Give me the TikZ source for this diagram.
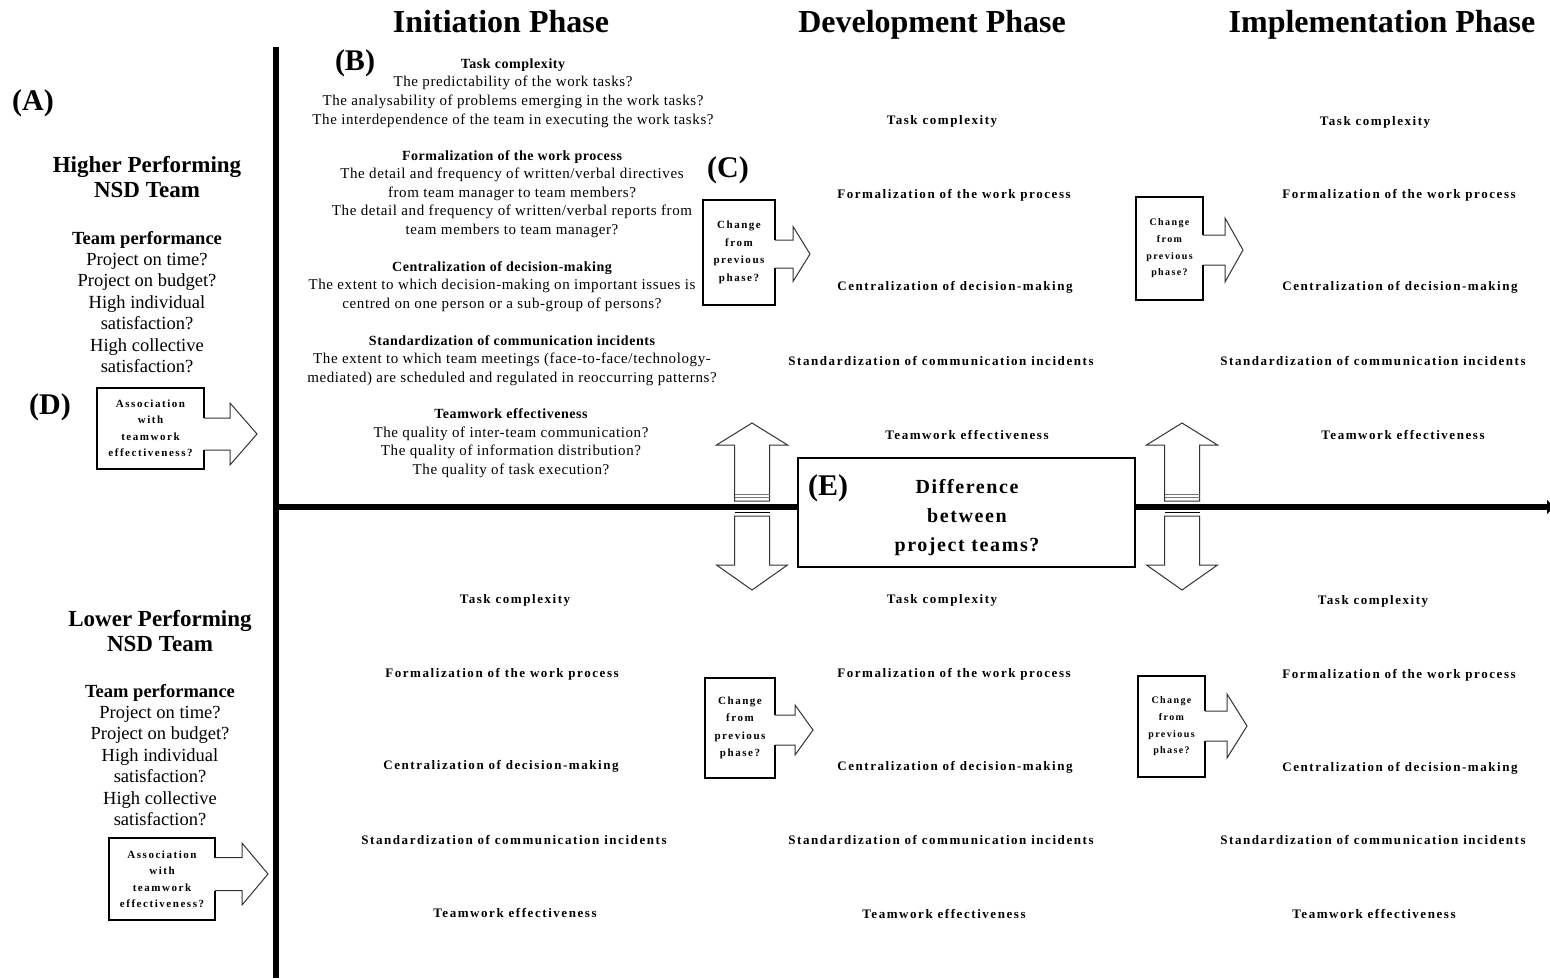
\documentclass[tikz,border=0pt]{standalone}
\usepackage{fontspec}
\setmainfont{Liberation Serif}
\newfontfamily\wideA[LetterSpace=12]{Liberation Serif}
\newfontfamily\wideB[LetterSpace=4]{Liberation Serif}
\newfontfamily\wideC[LetterSpace=14]{Liberation Serif}
\newfontfamily\wideD[LetterSpace=8]{Liberation Serif}
\usetikzlibrary{calc,arrows.meta}
\newcommand\bh[1]{{\wideB\bfseries\fontsize{14}{18.6}\selectfont #1}}
\newcommand\boxarrow[6]{%
  \coordinate (#1-a) at (0,#2-#3);
  \coordinate (#1-b) at (0,#2+#3);
  \draw[white, line width=2.4pt] (#1.east |- #1-a) -- (#1.east |- #1-b);
  \draw[arrowline] (#1.east |- #1-a) -- (#5,#2-#3) -- (#5,#2-#4) -- (#6,#2) -- (#5,#2+#4) -- (#5,#2+#3) -- (#1.east |- #1-b);
}
\newcommand\dblarrow[2]{%
  \coordinate (#1) at (#2,507);
  \draw[arrowline, fill=white] (#2-17.5,501) -- (#2-17.5,445) -- (#2-35.5,445) -- (#2,423) -- (#2+35.5,445) -- (#2+17.5,445) -- (#2+17.5,501) -- cycle;
  \draw[black!55, line width=1pt] (#2-17.5,494) -- (#2+17.5,494) (#2-17.5,497.5) -- (#2+17.5,497.5);
  \draw[arrowline, fill=white] (#2-17.5,516) -- (#2-17.5,565) -- (#2-35.5,565) -- (#2,590) -- (#2+35.5,565) -- (#2+17.5,565) -- (#2+17.5,516) -- cycle;
  \draw[black, line width=1pt] (#2-17.5,512.5) -- (#2+17.5,512.5);
}
\begin{document}
\begin{tikzpicture}[x=1pt,y=-1pt,
  txt/.style={inner sep=0pt, outer sep=0pt, align=center},
  hd/.style={txt, anchor=base, font=\bfseries\fontsize{32}{36}\selectfont},
  tag/.style={txt, font=\bfseries\fontsize{30}{32}\selectfont},
  lbl/.style={txt, font=\wideA\bfseries\fontsize{13}{15}\selectfont},
  body/.style={txt, font=\wideB\fontsize{15}{18.6}\selectfont},
  team/.style={txt, font=\bfseries\fontsize{23}{25}\selectfont},
  perf/.style={txt, font=\fontsize{18.5}{21.4}\selectfont},
  boxed/.style={draw, line width=1.1pt, fill=white, inner sep=0pt, outer sep=0pt, align=center},
  chg/.style={boxed, font=\wideC\bfseries\fontsize{11}{17.5}\selectfont},
  chgs/.style={boxed, font=\wideC\bfseries\fontsize{10}{16.7}\selectfont},
  assoc/.style={boxed, font=\wideC\bfseries\fontsize{11}{16.5}\selectfont},
  arrowline/.style={draw=black!80, line width=1pt, line join=miter},
  bar/.style={line width=6.5pt}]
\useasboundingbox (0,0) rectangle (1550,978);
\fill[white] (0,0) rectangle (1550,978);

% axes
\coordinate (vt) at (276,47);
\coordinate (vb) at (276,978);
\coordinate (hl) at (276,507);
\coordinate (hr) at (1554,507);
\draw[bar] (vt) -- (vb);
\draw[bar, -{Triangle[length=7pt,width=14pt]}] (hl) -- (hr);

% phase headings
\node[hd] (h1) at (501,32) {Initiation Phase};
\node[hd] (h2) at (932,32) {Development Phase};
\node[hd] (h3) at (1382,32) {Implementation Phase};

% letters
\node[tag] (tA) at (33,103) {(A)};
\node[tag] (tB) at (355,63) {(B)};
\node[tag] (tC) at (728,170) {(C)};
\node[tag] (tD) at (50,407) {(D)};

% left column
\node[team] (hi) at (147,177.5) {Higher Performing\\NSD Team};
\node[perf] (hip) at (147,302) {\textbf{Team performance}\\Project on time?\\Project on budget?\\High individual\\satisfaction?\\High collective\\satisfaction?};
\node[team] (lo) at (160,631.5) {Lower Performing\\NSD Team};
\node[perf] (lop) at (160,755) {\textbf{Team performance}\\Project on time?\\Project on budget?\\High individual\\satisfaction?\\High collective\\satisfaction?};

\node[assoc, minimum width=107pt, minimum height=81pt] (d1) at (150.5,428.5) {Association\\with\\teamwork\\effectiveness?};
\boxarrow{d1}{434}{16}{31}{230}{257}
\node[assoc, minimum width=106pt, minimum height=82pt] (d2) at (162,879) {Association\\with\\teamwork\\effectiveness?};
\boxarrow{d2}{874}{16.5}{31}{242}{268}

% initiation phase, higher team
\node[body] (b1) at (513,93) {\bh{Task complexity}\\The predictability of the work tasks?\\The analysability of problems emerging in the work tasks?\\The interdependence of the team in executing the work tasks?};
\node[body] (b2) at (512,194) {\bh{Formalization of the work process}\\The detail and frequency of written/verbal directives\\from team manager to team members?\\The detail and frequency of written/verbal reports from\\team members to team manager?};
\node[body] (b3) at (502,286.5) {\bh{Centralization of decision-making}\\The extent to which decision-making on important issues is\\centred on one person or a sub-group of persons?};
\node[body] (b4) at (512,360.5) {\bh{Standardization of communication incidents}\\The extent to which team meetings (face-to-face/technology-\\mediated) are scheduled and regulated in reoccurring patterns?};
\node[body] (b5) at (511,443) {\bh{Teamwork effectiveness}\\The quality of inter-team communication?\\The quality of information distribution?\\The quality of task execution?};

% short labels
\foreach \nm/\x/\y/\t in {
  dt/942/121/Task complexity, df/954/195/Formalization of the work process, dc/955/287/Centralization of decision-making, ds/941/361/Standardization of communication incidents, de/967/435/Teamwork effectiveness,
  it/1375/122/Task complexity, if/1399/195/Formalization of the work process, ic/1400/287/Centralization of decision-making, is/1373/361/Standardization of communication incidents, ie/1403/435/Teamwork effectiveness,
  lit/515/600/Task complexity, lif/502/674/Formalization of the work process, lic/501/766/Centralization of decision-making, lis/514/840/Standardization of communication incidents, lie/515/913/Teamwork effectiveness,
  ldt/942/600/Task complexity, ldf/954/674/Formalization of the work process, ldc/955/767/Centralization of decision-making, lds/941/840/Standardization of communication incidents, lde/944/914/Teamwork effectiveness,
  lmt/1373/601/Task complexity, lmf/1399/675/Formalization of the work process, lmc/1400/768/Centralization of decision-making, lms/1373/840/Standardization of communication incidents, lme/1374/914/Teamwork effectiveness}
  \node[lbl] (\nm) at (\x,\y) {\t};

% change boxes
\node[chg, minimum width=72pt, minimum height=105pt] (c1) at (739,252.5) {Change\\from\\previous\\phase?};
\boxarrow{c1}{254}{14}{27.5}{793}{810}
\node[chgs, minimum width=67pt, minimum height=103pt] (c2) at (1169.5,248.5) {Change\\from\\previous\\phase?};
\boxarrow{c2}{250}{15}{32}{1225}{1243}
\node[chg, minimum width=70pt, minimum height=100pt] (c3) at (740,728) {Change\\from\\previous\\phase?};
\boxarrow{c3}{730}{15}{25}{795}{813}
\node[chgs, minimum width=67pt, minimum height=101pt] (c4) at (1171.5,726.5) {Change\\from\\previous\\phase?};
\boxarrow{c4}{726}{15}{32}{1227}{1247}

% difference box
\node[boxed, minimum width=337pt, minimum height=109pt] (ebox) at (966.5,512.5) {};
\node[txt, font=\wideD\bfseries\fontsize{20}{29}\selectfont] (etext) at (967,518) {Difference\\between\\project teams?};
\node[tag] (tE) at (828,488) {(E)};

% vertical double arrows
\dblarrow{va1}{752}
\dblarrow{va2}{1182}
\end{tikzpicture}
\end{document}
